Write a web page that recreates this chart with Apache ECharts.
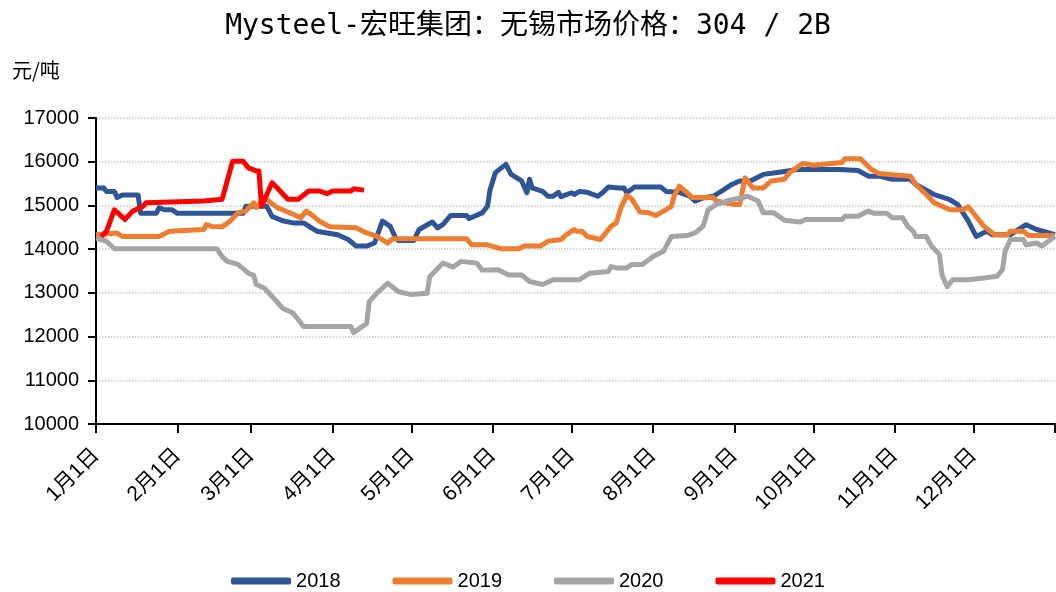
<!DOCTYPE html>
<html>
<head>
<meta charset="utf-8">
<script src="https://cdn.jsdelivr.net/npm/echarts@6/dist/echarts.min.js"></script>
<style>
  html, body { margin: 0; padding: 0; background: #fff; }
  #price_graph { width: 1056px; height: 592px; }
</style>
</head>
<body>
<div id="price_graph"></div>
<script>
//月初对应的天数（非闰年）
var monthStarts = [0, 31, 59, 90, 120, 151, 181, 212, 243, 273, 304, 334];
var monthLabels = ['1月1日', '2月1日', '3月1日', '4月1日', '5月1日', '6月1日',
    '7月1日', '8月1日', '9月1日', '10月1日', '11月1日', '12月1日'];
var yearNames = ['2018', '2019', '2020', '2021'];

//[第几天, 价格]
var price2018 = [[0,15400],[3,15400],[4,15320],[7,15320],[8,15180],[10,15240],[16,15240],[17,14820],[23,14820],
    [24,14950],[26,14900],[29,14900],[31,14820],[56,14820],[57,14980],[65,14980],[67,14750],[71,14650],[75,14600],
    [79,14600],[84,14410],[92,14330],[96,14220],[99,14070],[103,14070],[106,14140],[109,14640],[112,14520],
    [114,14260],[115,14200],[121,14200],[122,14330],[123,14450],[128,14620],[130,14490],[132,14560],[135,14770],
    [141,14770],[142,14700],[147,14830],[149,14980],[150,15360],[152,15750],[156,15940],[158,15710],[162,15560],
    [164,15290],[165,15600],[166,15400],[170,15320],[172,15210],[174,15210],[176,15300],[177,15200],[181,15290],
    [182,15250],[184,15320],[187,15300],[191,15210],[193,15300],[195,15420],[199,15400],[201,15400],[202,15290],
    [205,15420],[215,15420],[217,15320],[222,15300],[226,15210],[228,15100],[231,15170],[235,15210],[239,15360],
    [242,15480],[245,15560],[249,15560],[254,15710],[260,15760],[267,15820],[283,15820],[290,15800],[294,15670],
    [298,15670],[303,15600],[310,15600],[312,15480],[319,15250],[325,15130],[328,15020],[332,14640],[335,14290],
    [339,14410],[341,14330],[348,14330],[354,14560],[358,14450],[365,14330]];
var price2019 = [[0,14330],[8,14370],[10,14290],[24,14290],[28,14410],[41,14450],[42,14560],[44,14520],[48,14510],
    [51,14640],[54,14830],[57,14870],[60,15060],[61,14950],[64,15180],[69,14950],[71,14900],[78,14720],[80,14870],
    [82,14790],[85,14640],[89,14510],[99,14490],[103,14370],[107,14290],[111,14140],[113,14240],[141,14240],
    [143,14100],[149,14100],[154,14010],[161,14010],[163,14070],[169,14070],[172,14180],[177,14220],[179,14330],
    [182,14450],[183,14410],[185,14410],[187,14290],[192,14220],[196,14520],[198,14600],[200,14980],[202,15230],
    [204,15140],[207,14850],[210,14840],[213,14770],[216,14870],[219,14980],[220,15210],[222,15440],[225,15290],
    [227,15180],[235,15180],[236,15100],[243,15020],[245,15020],[247,15630],[250,15400],[254,15400],[257,15560],
    [262,15600],[264,15750],[269,15960],[273,15920],[284,15980],[285,16070],[291,16070],[295,15830],[298,15730],
    [303,15700],[310,15670],[312,15480],[316,15250],[319,15060],[325,14900],[330,14900],[332,14970],[338,14520],
    [342,14330],[347,14330],[348,14410],[353,14410],[355,14310],[365,14310]];
var price2020 = [[0,14250],[4,14180],[7,14010],[46,14010],[48,13830],[50,13720],[54,13650],[58,13450],[60,13400],
    [61,13190],[64,13110],[67,12920],[71,12650],[75,12540],[79,12230],[97,12230],[98,12090],[103,12300],[104,12800],
    [107,13000],[111,13220],[115,13030],[120,12960],[126,12990],[127,13370],[132,13680],[136,13590],[139,13720],
    [145,13680],[147,13520],[153,13530],[157,13410],[162,13410],[165,13260],[170,13190],[174,13300],[184,13300],
    [188,13450],[195,13490],[196,13600],[198,13570],[202,13570],[204,13650],[208,13650],[212,13830],[216,13950],
    [219,14290],[225,14310],[228,14370],[231,14520],[233,14900],[236,15020],[240,15100],[246,15180],[248,15210],
    [252,15100],[254,14830],[258,14830],[262,14660],[268,14620],[270,14680],[284,14680],[285,14750],[290,14750],
    [294,14870],[296,14820],[301,14820],[303,14720],[307,14720],[309,14520],[311,14410],[312,14290],[316,14290],
    [318,14070],[321,13880],[322,13410],[324,13140],[326,13300],[332,13300],[338,13340],[343,13380],[345,13530],
    [346,13950],[348,14220],[353,14220],[354,14100],[358,14140],[360,14070],[365,14290]];
var price2021 = [[2,14290],[4,14410],[7,14900],[11,14680],[14,14870],[18,14980],[19,15060],[41,15100],[48,15140],
    [52,16010],[56,16010],[58,15860],[61,15790],[62,15790],[63,14980],[67,15520],[69,15400],[73,15140],[77,15140],
    [81,15330],[85,15330],[88,15270],[90,15330],[97,15330],[98,15380],[102,15350]];

var lineColors = ['#2F5597', '#ED7D31', '#A5A5A5', '#FF0000'];

function makeLine(name, data, color) {
    return {
        name: name,
        type: 'line',
        data: data,
        showSymbol: false,
        symbol: 'none',
        lineStyle: { width: 5, color: color, join: 'round' },
        itemStyle: { color: color }
    };
}

var price_graph = echarts.init(document.getElementById('price_graph'));
var option = {
    animation: false,
    backgroundColor: '#FFFFFF',
    title: {
        text: 'Mysteel-宏旺集团：无锡市场价格：304 / 2B',
        left: 'center',
        top: 8,
        textStyle: {
            fontFamily: 'DejaVu Sans Mono, Noto Sans CJK SC',
            fontSize: 28,
            fontWeight: 'normal',
            color: '#000'
        }
    },
    graphic: [{
        type: 'text',
        left: 12,
        top: 60,
        style: {
            text: '元/吨',
            font: '20px "Noto Sans CJK SC"',
            fill: '#000'
        }
    }],
    legend: {
        data: yearNames,
        top: 566,
        left: 'center',
        icon: 'roundRect',
        itemWidth: 60,
        itemHeight: 7,
        itemGap: 52,
        textStyle: { fontFamily: 'Liberation Sans', fontSize: 20, color: '#000' }
    },
    grid: { left: 96, right: 1, top: 118, bottom: 168, containLabel: false },
    xAxis: {
        type: 'value',
        min: 0,
        max: 365,
        axisLine: { show: true, lineStyle: { color: '#000', width: 2 } },
        axisTick: {
            show: true,
            length: 9,
            customValues: monthStarts.concat([365]),
            lineStyle: { color: '#000', width: 2 }
        },
        axisLabel: {
            customValues: monthStarts,
            rotate: 45,
            margin: 28,
            fontFamily: 'Liberation Sans, Noto Sans CJK SC',
            fontSize: 21,
            color: '#000',
            formatter: function (v) {
                var i = monthStarts.indexOf(Math.round(v));
                return i >= 0 ? monthLabels[i] : '';
            }
        },
        splitLine: { show: false }
    },
    yAxis: {
        type: 'value',
        min: 10000,
        max: 17000,
        interval: 1000,
        axisLine: { show: true, lineStyle: { color: '#000', width: 2 } },
        axisTick: { show: true, length: 8, lineStyle: { color: '#000', width: 2 } },
        axisLabel: {
            fontFamily: 'Liberation Sans',
            fontSize: 20,
            color: '#000',
            margin: 17,
            formatter: function (v) { return String(v); }
        },
        splitLine: { show: true, lineStyle: { color: '#c8c8c8', type: 'dotted', width: 1.5 } }
    },
    series: [
        makeLine(yearNames[0], price2018, lineColors[0]),
        makeLine(yearNames[1], price2019, lineColors[1]),
        makeLine(yearNames[2], price2020, lineColors[2]),
        makeLine(yearNames[3], price2021, lineColors[3])
    ]
};
price_graph.setOption(option);
</script>
</body>
</html>
